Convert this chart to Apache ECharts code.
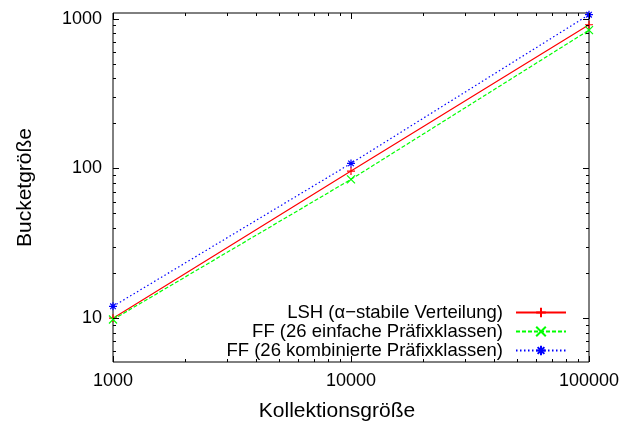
<!DOCTYPE html>
<html>
<head>
<meta charset="utf-8">
<script src="https://cdn.jsdelivr.net/npm/echarts@6/dist/echarts.min.js"></script>
<style>html,body{margin:0;padding:0;background:#fff}#c{width:627px;height:427px}</style>
</head>
<body>
<div id="c"></div>
<script>
// ---- data ----
var sizes = [1000, 10000, 100000];
var lsh = [10, 96, 910];
var ffEinfach = [9.8, 84.5, 838];
var ffKombiniert = [12, 108, 1062];
var seriesNames = [
  'LSH (\u03b1\u2212stabile Verteilung)',
  'FF (26 einfache Pr\u00e4fixklassen)',
  'FF (26 kombinierte Pr\u00e4fixklassen)'
];
var xTicks = [1000, 10000, 100000];
var yTicks = [10, 100, 1000];
var xRange = [1000, 100000];
var yRange = [5.1, 1090];

var FONT = 'Liberation Sans, Arial, sans-serif';

function pairs(xs, ys) { return xs.map(function (x, i) { return [x, ys[i]]; }); }
function isMajor(v, list) {
  for (var i = 0; i < list.length; i++) if (Math.abs(Math.log10(v) - Math.log10(list[i])) < 1e-6) return list[i];
  return null;
}
function minorVals(range, majors) {
  var out = [];
  var lo = Math.floor(Math.log10(range[0])), hi = Math.ceil(Math.log10(range[1]));
  for (var e = lo; e <= hi; e++) {
    for (var m = 1; m <= 9; m++) {
      var v = m * Math.pow(10, e);
      if (v >= range[0] * 0.9999 && v <= range[1] * 1.0001) out.push({ v: v, major: m === 1 && isMajor(v, majors) !== null });
    }
  }
  return out;
}
var xTickVals = minorVals(xRange, xTicks);
var yTickVals = minorVals(yRange, yTicks);

var chart = echarts.init(document.getElementById('c'), null, { renderer: 'canvas' });

var symPlus = 'path://M0,5L10,5M5,0L5,10';
var symX = 'path://M0,0L10,10M0,10L10,0';
var symStar = 'path://M0,5L10,5M5,0L5,10M1.5,1.5L8.5,8.5M1.5,8.5L8.5,1.5';

function lineSeries(name, data, color, type, sym) {
  return {
    name: name, type: 'line', data: pairs(sizes, data),
    symbol: sym, symbolSize: 8, showSymbol: true,
    lineStyle: { color: color, width: 1.2, type: type },
    itemStyle: { color: color, borderColor: color, borderWidth: 1.2 },
    emphasis: { disabled: true }, animation: false, z: 3
  };
}

var option = {
  animation: false,
  backgroundColor: '#fff',
  grid: { left: 113, top: 13, right: 38, bottom: 64, show: true, borderColor: '#000', borderWidth: 1, backgroundColor: 'transparent' },
  xAxis: {
    type: 'log', logBase: 10, min: xRange[0], max: xRange[1],
    name: 'Kollektionsgr\u00f6\u00dfe', nameLocation: 'middle', nameGap: 39,
    nameTextStyle: { fontFamily: FONT, fontSize: 21, color: '#000', padding: [0, 28, 0, 0] },
    axisLine: { show: false }, axisTick: { show: false }, splitLine: { show: false },
    axisLabel: {
      fontFamily: FONT, fontSize: 18, color: '#000', margin: 10,
      formatter: function (v) { var m = isMajor(v, xTicks); return m === null ? '' : String(m); }
    }
  },
  yAxis: {
    type: 'log', logBase: 10, min: yRange[0], max: yRange[1],
    name: 'Bucketgr\u00f6\u00dfe', nameLocation: 'middle', nameGap: 77, nameRotate: 90,
    nameTextStyle: { fontFamily: FONT, fontSize: 21, color: '#000' },
    axisLine: { show: false }, axisTick: { show: false }, splitLine: { show: false },
    axisLabel: {
      fontFamily: FONT, fontSize: 18, color: '#000', margin: 11,
      formatter: function (v) { var m = isMajor(v, yTicks); return m === null ? '' : String(m); }
    }
  },
  legend: {
    orient: 'vertical', right: 55, top: 298, align: 'right',
    itemWidth: 50, itemHeight: 12, itemGap: 0,
    textStyle: { fontFamily: FONT, fontSize: 18.5, color: '#000', padding: [0, 8, 0, 0] },
    data: seriesNames
  },
  series: [
    lineSeries(seriesNames[0], lsh, '#ff0000', 'solid', symPlus),
    lineSeries(seriesNames[1], ffEinfach, '#00ff00', [4, 2], symX),
    lineSeries(seriesNames[2], ffKombiniert, '#0000ff', [1.5, 2.5], symStar),
    {
      type: 'custom', silent: true, z: 5,
      data: [[xRange[0], yRange[0]]],
      renderItem: function (params, api) {
        var cs = params.coordSys;
        var x0 = cs.x, x1 = cs.x + cs.width, y0 = cs.y, y1 = cs.y + cs.height;
        var ch = [];
        var st = { stroke: '#000', lineWidth: 1 };
        xTickVals.forEach(function (t) {
          var px = Math.round(api.coord([t.v, yRange[0]])[0]) + 0.5;
          var len = t.major ? 6 : 3;
          ch.push({ type: 'line', shape: { x1: px, y1: y1, x2: px, y2: y1 - len }, style: st });
          ch.push({ type: 'line', shape: { x1: px, y1: y0, x2: px, y2: y0 + len }, style: st });
        });
        yTickVals.forEach(function (t) {
          var py = Math.round(api.coord([xRange[0], t.v])[1]) + 0.5;
          var len = t.major ? 6 : 3;
          ch.push({ type: 'line', shape: { x1: x0, y1: py, x2: x0 + len, y2: py }, style: st });
          ch.push({ type: 'line', shape: { x1: x1, y1: py, x2: x1 - len, y2: py }, style: st });
        });
        return { type: 'group', children: ch };
      }
    }
  ]
};
chart.setOption(option);
</script>
</body>
</html>
